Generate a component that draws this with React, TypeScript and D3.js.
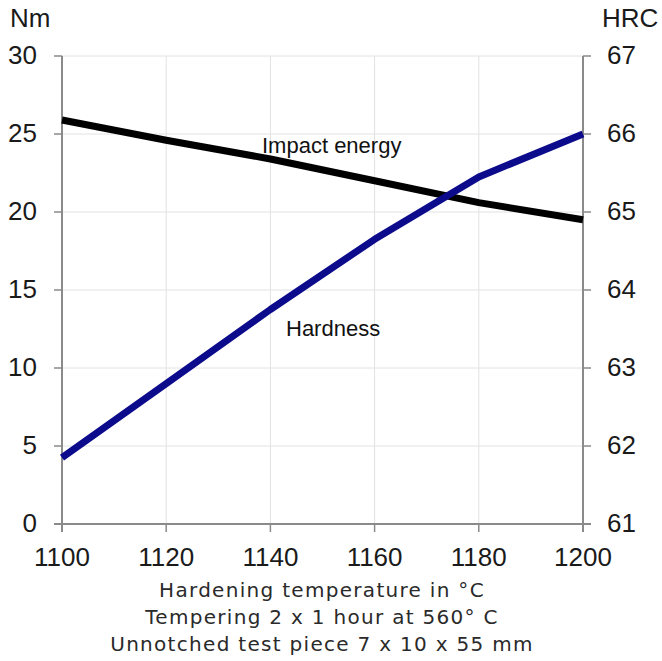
import React from 'react';
import * as d3 from 'd3';

const temps = [1100, 1120, 1140, 1160, 1180, 1200];
const impactEnergy = [25.9, 24.6, 23.4, 22.0, 20.6, 19.5];
const hardness = [61.85, 62.8, 63.75, 64.65, 65.45, 66.0];
const leftTicks = [0, 5, 10, 15, 20, 25, 30];
const rightTicks = [61, 62, 63, 64, 65, 66, 67];
const xTicks = [1100, 1120, 1140, 1160, 1180, 1200];
const titleLines = [
  'Hardening temperature in °C',
  'Tempering 2 x 1 hour at 560° C',
  'Unnotched test piece 7 x 10 x 55 mm',
];

const W = 662;
const H = 661;
const left = 62;
const right = 583;
const top = 56;
const bottom = 524;

const App = () => {
  const x = d3.scaleLinear().domain([1100, 1200]).range([left, right]);
  const yL = d3.scaleLinear().domain([0, 30]).range([bottom, top]);
  const yR = d3.scaleLinear().domain([61, 67]).range([bottom, top]);

  const impactLine = d3.line<number>()
    .x((_, i) => x(temps[i]))
    .y(d => yL(d));
  const hardLine = d3.line<number>()
    .x((_, i) => x(temps[i]))
    .y(d => yR(d));

  const font = 'Liberation Sans, Arial, sans-serif';

  return (
    <svg width={W} height={H} style={{ position: 'absolute', left: 0, top: 0, background: '#fff' }}>
      {/* grid */}
      {leftTicks.map(t => (
        <line key={'gh' + t} x1={left} x2={right} y1={yL(t)} y2={yL(t)} stroke="#e2e2e2" strokeWidth={1} />
      ))}
      {xTicks.map(t => (
        <line key={'gv' + t} x1={x(t)} x2={x(t)} y1={top} y2={bottom} stroke="#e2e2e2" strokeWidth={1} />
      ))}

      {/* axes */}
      <line x1={left} x2={left} y1={top} y2={bottom + 8} stroke="#8a8a8a" strokeWidth={2} />
      <line x1={right} x2={right} y1={top} y2={bottom + 8} stroke="#8a8a8a" strokeWidth={2} />
      <line x1={left - 8} x2={right + 8} y1={bottom} y2={bottom} stroke="#8a8a8a" strokeWidth={2} />
      {leftTicks.map(t => (
        <line key={'tl' + t} x1={left - 8} x2={left} y1={yL(t)} y2={yL(t)} stroke="#8a8a8a" strokeWidth={1.5} />
      ))}
      {rightTicks.map(t => (
        <line key={'tr' + t} x1={right} x2={right + 8} y1={yR(t)} y2={yR(t)} stroke="#8a8a8a" strokeWidth={1.5} />
      ))}
      {xTicks.map(t => (
        <line key={'tx' + t} x1={x(t)} x2={x(t)} y1={bottom} y2={bottom + 8} stroke="#8a8a8a" strokeWidth={1.5} />
      ))}

      {/* tick labels */}
      {leftTicks.map(t => (
        <text key={'ll' + t} x={37} y={yL(t) + 8} textAnchor="end" fontFamily={font} fontSize={26} fill="#1a1a1a">{t}</text>
      ))}
      {rightTicks.map(t => (
        <text key={'rl' + t} x={607} y={yR(t) + 8} textAnchor="start" fontFamily={font} fontSize={26} fill="#1a1a1a">{t}</text>
      ))}
      {xTicks.map(t => (
        <text key={'xl' + t} x={x(t)} y={566} textAnchor="middle" fontFamily={font} fontSize={26} fill="#1a1a1a">{t}</text>
      ))}

      <text x={10} y={27} fontFamily={font} fontSize={26} fill="#1a1a1a">Nm</text>
      <text x={602} y={27} fontFamily={font} fontSize={26} fill="#1a1a1a">HRC</text>

      {/* lines */}
      <path d={impactLine(impactEnergy) || ''} fill="none" stroke="#000" strokeWidth={7} strokeLinejoin="round" />
      <path d={hardLine(hardness) || ''} fill="none" stroke="#0b0b8c" strokeWidth={7} strokeLinejoin="round" />

      <text x={262} y={153} fontFamily={font} fontSize={22} fill="#111">Impact energy</text>
      <text x={286} y={336} fontFamily={font} fontSize={22} fill="#111">Hardness</text>

      {titleLines.map((s, i) => (
        <text key={s} x={322} y={597 + i * 27} textAnchor="middle" fontFamily="DejaVu Sans, sans-serif" fontSize={20} letterSpacing={1.3} fill="#2a2a2a">{s}</text>
      ))}
    </svg>
  );
};

export default App;
